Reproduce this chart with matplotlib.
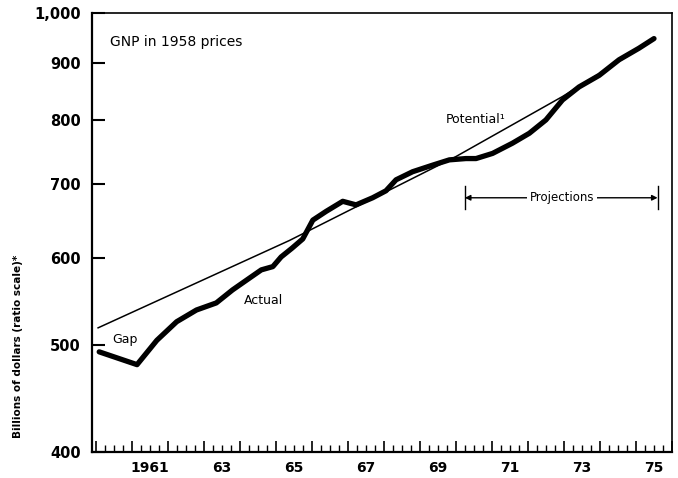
import numpy as np
import matplotlib
matplotlib.use("Agg")
import matplotlib.pyplot as plt
from matplotlib.ticker import FixedLocator, NullFormatter, NullLocator
import matplotlib.transforms as mtransforms

plt.rcParams['font.family'] = ['DejaVu Sans']

# Actual GNP (billions of 1958 dollars)
actual_years = [1960.1, 1961.15, 1961.7, 1962.25, 1962.8, 1963.35, 1963.8, 1964.27,
                1964.6, 1964.92, 1965.15, 1965.45, 1965.75, 1966.03, 1966.4, 1966.86,
                1967.23, 1967.69, 1968.06, 1968.34, 1968.8, 1969.36, 1969.82, 1970.28,
                1970.56, 1971.02, 1971.57, 1972.04, 1972.5, 1972.96, 1973.42, 1973.98,
                1974.53, 1975.08, 1975.5]
actual_values = [493, 480, 505, 525, 538, 546, 561, 575,
                 585, 589, 601, 612, 624, 649, 661, 675,
                 670, 680, 690, 706, 718, 728, 736, 738,
                 738, 746, 762, 778, 800, 834, 857, 878,
                 907, 929, 948]

# Potential GNP
potential_years = [1960.05, 1965.38, 1970.0, 1972.96, 1975.5]
potential_values = [518, 622, 741, 840, 946]

y_ticks = [400, 500, 600, 700, 800, 900, 1000]
y_tick_labels = ['400', '500', '600', '700', '800', '900', '1,000']
x_label_years = [1961, 1963, 1965, 1967, 1969, 1971, 1973, 1975]
x_label_texts = ['1961', '63', '65', '67', '69', '71', '73', '75']

fig = plt.figure(figsize=(6.78, 4.78), dpi=100)
ax = fig.add_axes([92/678, 1-452/478, 580/678, 439/478])

ax.plot(potential_years, potential_values, color='black', lw=1.1, solid_capstyle='butt', zorder=2)
ax.plot(actual_years, actual_values, color='black', lw=3.8, solid_capstyle='round',
        solid_joinstyle='round', zorder=3)

ax.set_yscale('log')
ax.set_ylim(400, 1000)
ax.set_xlim(1959.9, 1976.0)

ax.yaxis.set_major_locator(FixedLocator(y_ticks))
ax.set_yticklabels(y_tick_labels)
ax.yaxis.set_minor_locator(NullLocator())
ax.yaxis.set_minor_formatter(NullFormatter())
ax.tick_params(axis='y', which='major', direction='in', length=9, width=1.5, pad=8,
               labelsize=10.5, left=True, right=False)
for lab in ax.get_yticklabels():
    lab.set_fontweight('bold')

years = np.arange(1960, 1977)
ax.xaxis.set_major_locator(FixedLocator(years))
ax.xaxis.set_major_formatter(NullFormatter())
ax.xaxis.set_minor_locator(FixedLocator(np.arange(1960, 1976.01, 0.25)))
ax.tick_params(axis='x', which='major', direction='in', length=8, width=1.2, bottom=True, top=False)
ax.tick_params(axis='x', which='minor', direction='in', length=5, width=1.0, bottom=True, top=False)

trans = mtransforms.blended_transform_factory(ax.transData, ax.transAxes)
for yr, txt in zip(x_label_years, x_label_texts):
    ax.text(yr + 0.5, -0.036, txt, transform=trans, ha='center', va='center',
            fontsize=10, fontweight='bold')

for side in ['left', 'bottom']:
    ax.spines[side].set_linewidth(1.6)
for side in ['top', 'right']:
    ax.spines[side].set_linewidth(1.2)

ax.text(0.031, 0.934, 'GNP in 1958 prices', transform=ax.transAxes, ha='left', va='center',
        fontsize=10)
ax.text(1969.73, 800, 'Potential\u00b9', ha='left', va='center', fontsize=9)
ax.text(1964.13, 549, 'Actual', ha='left', va='center', fontsize=9)
ax.text(1960.45, 506, 'Gap', ha='left', va='center', fontsize=9)

# Projections bracket
p_start, p_end, p_y = 1970.25, 1975.6, 680
p_mid = 1972.95
ax.annotate('', xy=(p_start, p_y), xytext=(p_mid, p_y),
            arrowprops=dict(arrowstyle='-|>', color='black', lw=1.0, mutation_scale=8,
                            shrinkA=0, shrinkB=0))
ax.annotate('', xy=(p_end, p_y), xytext=(p_mid, p_y),
            arrowprops=dict(arrowstyle='-|>', color='black', lw=1.0, mutation_scale=8,
                            shrinkA=0, shrinkB=0))
ax.plot([p_start, p_start], [664, 697], color='black', lw=1.0)
ax.plot([p_end, p_end], [664, 697], color='black', lw=1.0)
ax.text(p_mid, p_y, 'Projections', ha='center', va='center', fontsize=8.5,
        bbox=dict(facecolor='white', edgecolor='none', pad=2))

fig.text(18/678, 1-346/478, 'Billions of dollars (ratio scale)*', rotation=90,
         ha='center', va='center', fontsize=7.5, fontweight='bold')

fig.savefig('out.png', dpi=100)
